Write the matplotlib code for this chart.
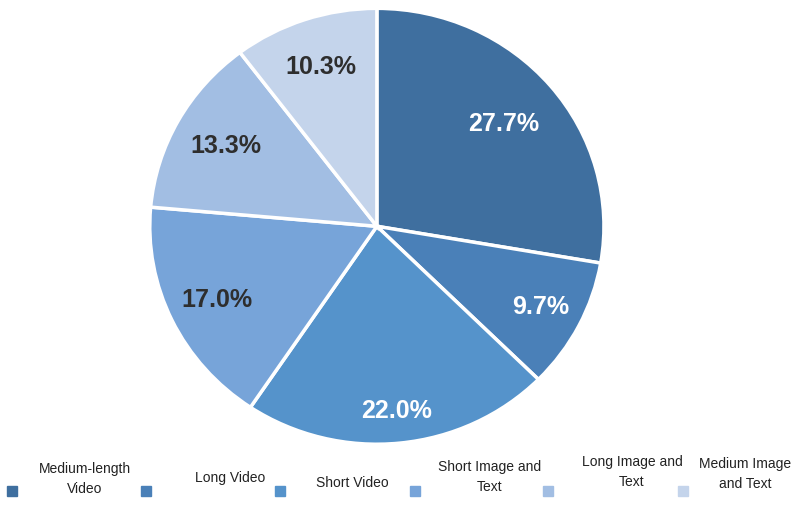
import numpy as np
import matplotlib.pyplot as plt
from matplotlib.patches import Rectangle

# share of content formats
labels = ["Medium-length\nVideo", "Long Video", "Short Video",
          "Short Image and\nText", "Long Image and\nText", "Medium Image\nand Text"]
shares = [27.7, 9.7, 22.0, 17.0, 13.3, 10.3]
colors = ["#3f6f9f", "#4a80b8", "#5593cb", "#77a4d9", "#a2bee3", "#c4d4eb"]
text_colors = ["white", "white", "white", "#2e2e2e", "#2e2e2e", "#2e2e2e"]
label_dist = [0.73, 0.81, 0.85, 0.78, 0.76, 0.77]

fig = plt.figure(figsize=(8.01, 5.22), dpi=100)
ax = fig.add_axes([0.187, 0.149, 0.567, 0.835])

wedges, texts, autotexts = ax.pie(
    shares, colors=colors, startangle=90, counterclock=False, radius=1,
    autopct="%.1f%%", pctdistance=0.78,
    wedgeprops=dict(edgecolor="white", linewidth=2.5),
    textprops=dict(fontsize=18, fontweight="bold", family="Liberation Sans"))
for w, t, c, d in zip(wedges, autotexts, text_colors, label_dist):
    mid = np.deg2rad((w.theta1 + w.theta2) / 2)
    t.set_position((d * np.cos(mid), d * np.sin(mid)))
    t.set_color(c)
ax.set_aspect("auto")
ax.set_xlim(-1, 1)
ax.set_ylim(-1, 1)
ax.axis("off")

# legend row along the bottom
W, H = 801, 522
sq_x = [12, 146, 280, 415, 548, 683]
txt_x = [85, 230, 352, 490, 632, 745]
txt_y = [479, 478, 483, 477, 472, 474]
for i in range(len(labels)):
    fig.patches.append(Rectangle(((sq_x[i] - 5) / W, 1 - (491 + 5) / H), 10 / W, 10 / H,
                                 transform=fig.transFigure, color=colors[i]))
    fig.text(txt_x[i] / W, 1 - txt_y[i] / H, labels[i], ha="center", va="center",
             multialignment="center", fontsize=10, family="Liberation Sans",
             color="#222222", linespacing=1.5)

fig.savefig("out.png", dpi=100)
